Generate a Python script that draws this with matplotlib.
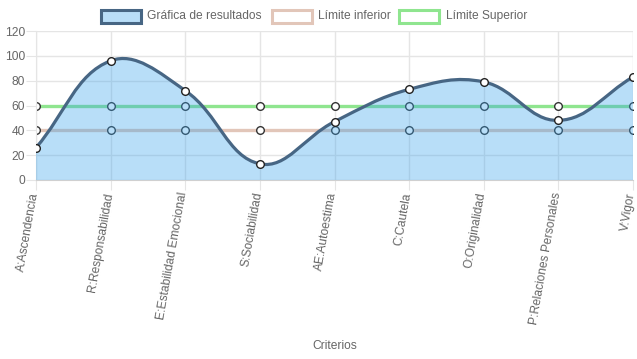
import numpy as np
import matplotlib
matplotlib.use("Agg")
import matplotlib.pyplot as plt
import matplotlib.transforms as mtransforms
from matplotlib.path import Path
from matplotlib.patches import PathPatch, Rectangle

categories = ["A:Ascendencia", "R:Responsabilidad", "E:Estabilidad Emocional",
              "S:Sociabilidad", "AE:Autoestima", "C:Cautela", "O:Originalidad",
              "P:Relaciones Personales", "V:Vigor"]
resultados = [26, 96, 72, 13, 47, 73, 79, 48, 83]
limite_inferior = [40, 40, 40, 40, 40, 40, 40, 40, 40]
limite_superior = [60, 60, 60, 60, 60, 60, 60, 60, 60]
legend_labels = ["Gráfica de resultados", "Límite inferior", "Límite Superior"]
y_ticks = [0, 20, 40, 60, 80, 100, 120]

plt.rcParams['font.family'] = ['Liberation Sans', 'DejaVu Sans']
FS = 8.64

W, H = 637, 359
fig = plt.figure(figsize=(W / 100, H / 100), dpi=100)
L, R, T, B = 36, 633, 31, 180
ax = fig.add_axes([L / W, 1 - B / H, (R - L) / W, (B - T) / H])

n = len(categories)
x = np.arange(n)
ax.set_xlim(0, n - 1)
ax.set_ylim(0, 120)

line_col = "#476684"
fill_col = (54 / 255, 162 / 255, 235 / 255, 0.35)
low_col = "#e2c6b9"
up_col = "#8fe58f"
grid_col = "#e5e5e5"

# grid
ax.set_yticks(y_ticks)
ax.set_xticks(x)
ax.grid(True, color=grid_col, linewidth=1, zorder=0)
ax.set_axisbelow(True)
for s in ["top", "right"]:
    ax.spines[s].set_visible(False)
ax.spines["left"].set_color(grid_col)
ax.spines["bottom"].set_color("#d0d0d0")
ax.tick_params(axis="both", length=7, color=grid_col, labelcolor="#666666",
               labelsize=FS)
ax.tick_params(axis="x", pad=2)
ax.tick_params(axis="y", pad=1)
ax.set_xticklabels(categories)
shift = mtransforms.ScaledTranslation(-1.5 / 100, 0, fig.dpi_scale_trans)
for lab in ax.get_xticklabels():
    lab.set_rotation(80)
    lab.set_ha("right")
    lab.set_va("center")
    lab.set_rotation_mode("anchor")
    lab.set_transform(lab.get_transform() + shift)

# limit lines
ax.plot(x, limite_inferior, color=low_col, lw=2.4, zorder=2,
        marker="o", ms=5.5, mfc="white", mec="#333333", mew=1)
ax.plot(x, limite_superior, color=up_col, lw=2.4, zorder=2,
        marker="o", ms=5.5, mfc="white", mec="#333333", mew=1)

# Chart.js-like bezier curve (tension 0.4) in pixel space
fig.canvas.draw()
tr = ax.transData
pts = tr.transform(np.column_stack([x, resultados]))
t = 0.4
cps = []
for i in range(n):
    prev = pts[i - 1] if i > 0 else pts[i]
    cur = pts[i]
    nxt = pts[i + 1] if i < n - 1 else pts[i]
    d01 = np.hypot(*(cur - prev))
    d12 = np.hypot(*(nxt - cur))
    tot = d01 + d12
    s01 = d01 / tot if tot else 0
    s12 = d12 / tot if tot else 0
    fa, fb = t * s01, t * s12
    cp_prev = cur - fa * (nxt - prev)
    cp_next = cur + fb * (nxt - prev)
    cps.append((cp_prev, cp_next))
verts = [pts[0]]
codes = [Path.MOVETO]
for i in range(1, n):
    verts += [cps[i - 1][1], cps[i][0], pts[i]]
    codes += [Path.CURVE4] * 3
inv = tr.inverted()
dverts = inv.transform(np.array(verts))
curve = Path(dverts, codes)
fill_verts = list(dverts) + [(x[-1], 0), (x[0], 0), (x[0], dverts[0][1])]
fill_codes = codes + [Path.LINETO, Path.LINETO, Path.CLOSEPOLY]
ax.add_patch(PathPatch(Path(fill_verts, fill_codes), facecolor=fill_col,
                       edgecolor="none", zorder=3))
ax.add_patch(PathPatch(curve, facecolor="none", edgecolor=line_col, lw=2.3,
                       zorder=4, capstyle="round", joinstyle="round"))
ax.plot(x, resultados, ls="none", marker="o", ms=5.5, mfc="white",
        mec="#222222", mew=1, zorder=5)

# legend
def px(xp, yp):
    return xp / W, 1 - yp / H

items = [(99, 147, (185 / 255, 222 / 255, 248 / 255), line_col),
         (270, 318, "white", low_col),
         (398, 446, "white", up_col)]
for (bx, tx, fc, ec), lab in zip(items, legend_labels):
    x0, y0 = px(bx + 1.5, 22.5)
    rect = Rectangle((x0, y0), 40 / W, 12 / H, transform=fig.transFigure,
                     facecolor=fc, edgecolor=ec, lw=2.2)
    fig.patches.append(rect)
    fig.text(*px(tx, 16), lab, fontsize=FS, color="#666666", va="center",
             ha="left")

fig.text(*px((L + R) / 2, 346), "Criterios", fontsize=FS, color="#666666",
         ha="center", va="center")

fig.savefig("out.png", dpi=100)
